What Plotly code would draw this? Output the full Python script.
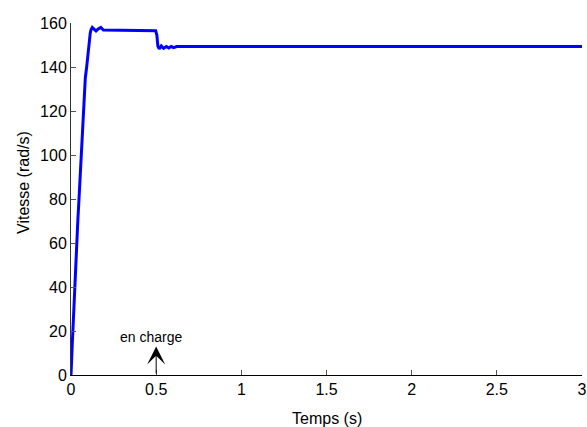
import plotly.graph_objects as go

# Rotor speed response: start-up, then a load step applied at t = 0.5 s
temps = [0.0, 0.001, 0.003, 0.008, 0.014, 0.02, 0.027, 0.033, 0.04, 0.047,
         0.053, 0.059, 0.066, 0.072, 0.078, 0.084, 0.092, 0.098, 0.104, 0.109,
         0.113, 0.118, 0.125, 0.135, 0.147, 0.16, 0.175, 0.19, 0.3, 0.4,
         0.49, 0.497, 0.504, 0.51, 0.518, 0.53, 0.544, 0.56, 0.574, 0.588,
         0.603, 0.62, 1.0, 1.5, 2.0, 2.5, 3.0]
vitesse = [0.0, 4.0, 7.0, 15.0, 25.0, 37.0, 48.0, 60.0, 70.0, 80.0,
           90.0, 100.0, 110.0, 120.0, 129.0, 135.0, 140.0, 145.0, 150.0, 153.5,
           155.5, 157.0, 158.0, 157.2, 156.4, 157.3, 158.0, 156.8, 156.8, 156.8,
           156.8, 156.5, 154.5, 149.5, 148.2, 149.6, 148.5, 149.3, 148.6, 149.3,
           148.8, 149.3, 149.3, 149.3, 149.3, 149.3, 149.3]

x_ticks = [0, 0.5, 1, 1.5, 2, 2.5, 3]
y_ticks = [0, 20, 40, 60, 80, 100, 120, 140, 160]

t_charge = 0.5          # instant the load is applied
fleche_haut = 12.9      # arrow tip height (rad/s)

police = "Liberation Sans, Arial, sans-serif"

# Plot area in pixels (left, right, top, bottom)
W, H = 587, 427
L, R, T, B = 71, 582, 23, 375


def px_to_paper(px, py):
    return (px - L) / (R - L), (B - py) / (B - T)


fig = go.Figure()
fig.add_trace(go.Scatter(
    x=temps, y=vitesse, mode="lines",
    line=dict(color="#0000ff", width=3),
    showlegend=False,
))

# Arrow marking the load step
fig.add_annotation(
    x=t_charge, y=fleche_haut, ax=t_charge, ay=0,
    xref="x", yref="y", axref="x", ayref="y",
    text="", showarrow=True, arrowhead=3, arrowsize=3,
    arrowwidth=1, arrowcolor="black",
)
fig.add_annotation(
    x=0.47, y=17.3, xref="x", yref="y", text="en charge",
    showarrow=False, font=dict(family=police, size=14, color="black"),
)

# Axis titles
tx, ty = px_to_paper(327, 418)
fig.add_annotation(
    x=tx, y=ty, xref="paper", yref="paper", text="Temps (s)",
    xanchor="center", yanchor="middle", showarrow=False,
    font=dict(family=police, size=16, color="black"),
)
vx, vy = px_to_paper(23, 183)
fig.add_annotation(
    x=vx, y=vy, xref="paper", yref="paper", text="Vitesse (rad/s)",
    textangle=-90, xanchor="center", yanchor="middle", showarrow=False,
    font=dict(family=police, size=16, color="black"),
)

fig.update_layout(
    width=W, height=H,
    margin=dict(l=L, r=W - R, t=T, b=H - B, autoexpand=False),
    paper_bgcolor="white", plot_bgcolor="white",
    font=dict(family=police, size=16, color="black"),
)
fig.update_xaxes(
    range=[0, 3], tickvals=x_ticks, ticktext=[f"{v:g}" for v in x_ticks],
    showgrid=False, zeroline=False, showline=True, linecolor="black",
    linewidth=1, ticks="inside", ticklen=5, tickcolor="#555",
    automargin=False,
)
fig.update_yaxes(
    range=[0, 160], tickvals=y_ticks, showgrid=False, zeroline=False,
    showline=True, linecolor="#333", linewidth=1, ticks="inside",
    ticklen=5, tickcolor="#555", automargin=False,
)

fig.write_html("out.html")
